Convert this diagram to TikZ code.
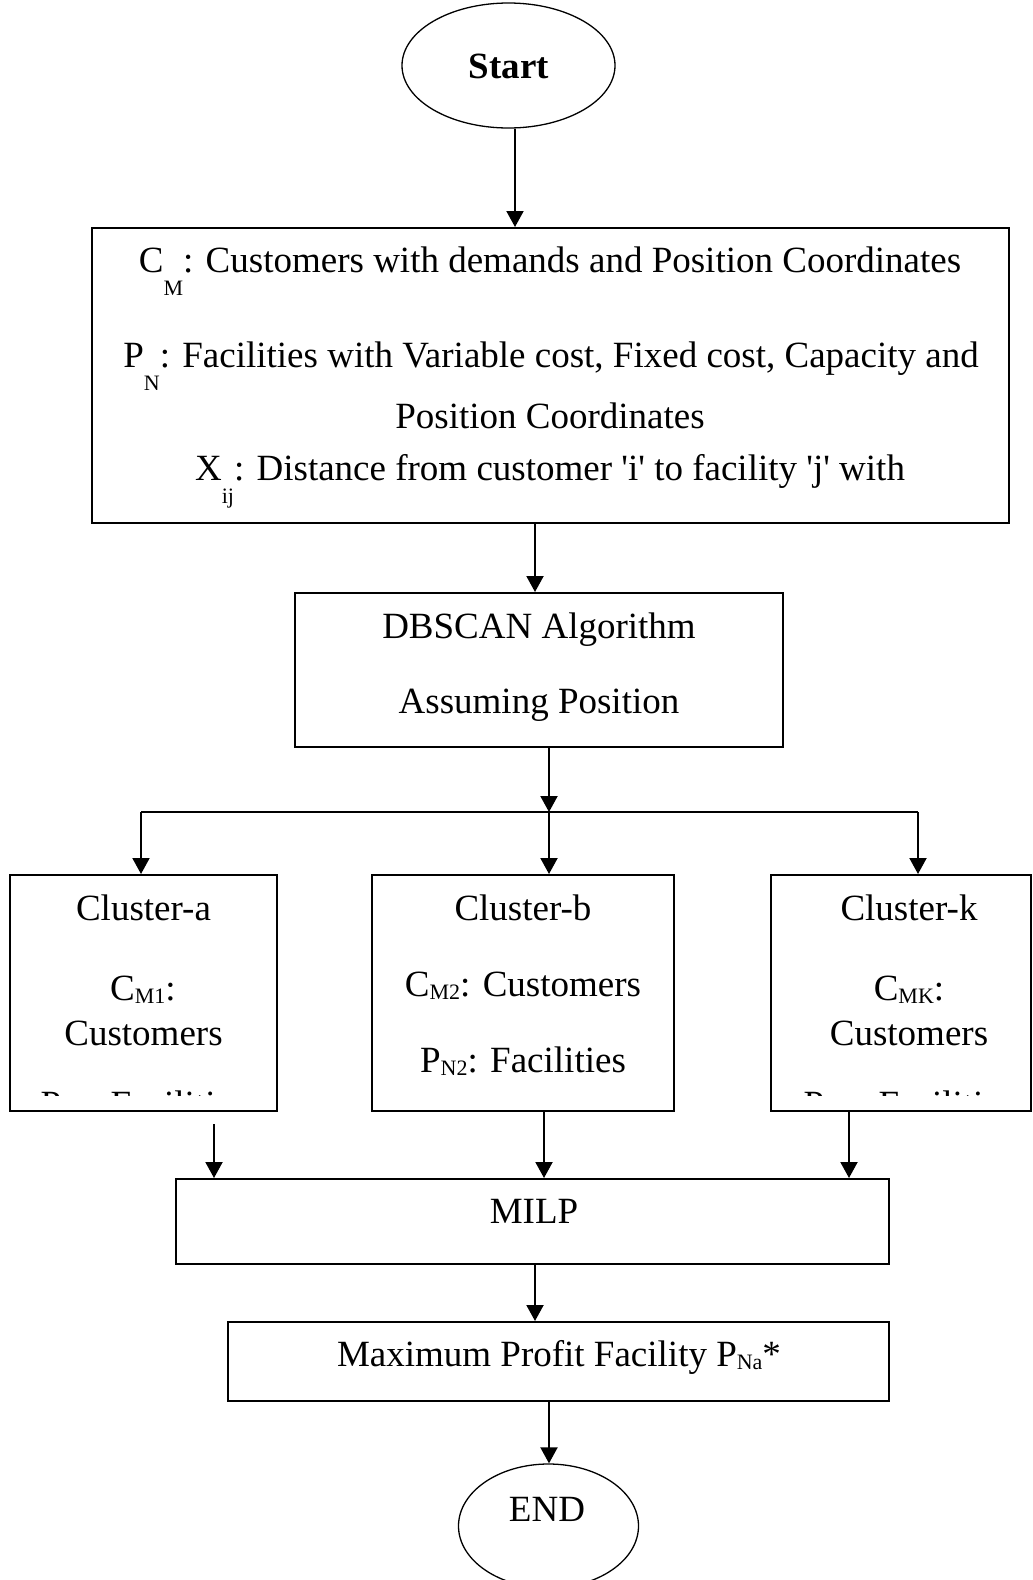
\documentclass[tikz,border=0pt]{standalone}
\usepackage{fontspec}
\setmainfont{Liberation Serif}[Ligatures=TeXOff]
\usetikzlibrary{arrows.meta,fit,shapes.geometric}
\newcommand{\dsub}[1]{\raisebox{-11.5pt}{\fontsize{11}{12}\selectfont #1}}
\newcommand{\csub}[1]{\raisebox{-1.5pt}{\fontsize{11}{12}\selectfont #1}}
\begin{document}
\begin{tikzpicture}[x=0.5pt,y=-0.5pt,
  box/.style={draw,line width=1pt,inner sep=0pt},
  oval/.style={draw,ellipse,line width=0.65pt,inner sep=0pt},
  txt/.style={anchor=base,inner sep=0pt,font=\fontsize{18.5}{22}\selectfont},
  conn/.style={line width=1pt},
  arr/.style={line width=1pt,-{Triangle[length=8pt,width=8.5pt]}}]
\useasboundingbox (0,0) rectangle (1033,1580);
% Start
\node[oval,minimum width=106.5pt,minimum height=62.5pt] (start) at (508.5,65.5) {};
\node[txt,font=\fontsize{18.5}{22}\selectfont\bfseries] (tstart) at (509,78) {Start};
% input box
\node[box,fit={(92,228) (1009,523)}] (inp) {};
\node[txt] (l1) at (550,272) {C\dsub{M}: Customers with demands and Position Coordinates};
\node[txt] (l2) at (551,367) {P\dsub{N}: Facilities with Variable cost, Fixed cost, Capacity and};
\node[txt] (l3) at (550,428) {Position Coordinates};
\node[txt] (l4) at (550,480) {X\dsub{ij}: Distance from customer 'i' to facility 'j' with};
% DBSCAN
\node[box,fit={(295,593) (783,747)}] (db) {};
\node[txt] (d1) at (539,638) {DBSCAN Algorithm};
\node[txt] (d2) at (539,713) {Assuming Position};
% clusters
\node[box,fit={(10,875) (277,1111)}] (cla) {};
\node[box,fit={(372,875) (674,1111)}] (clb) {};
\node[box,fit={(771,875) (1031,1111)}] (clk) {};
\begin{scope}
\clip (10,875) rectangle (277,1095);
\node[txt] (a1) at (143.5,920) {Cluster-a};
\node[txt] (a2) at (143,1000) {C\csub{M1}:};
\node[txt] (a3) at (143.5,1045) {Customers};
\node[txt] (a4) at (143.5,1116) {P\csub{N1}: Facilities};
\end{scope}
\node[txt] (b1) at (523,920) {Cluster-b};
\node[txt] (b2) at (523,996) {C\csub{M2}: Customers};
\node[txt] (b3) at (523,1072) {P\csub{N2}: Facilities};
\begin{scope}
\clip (771,875) rectangle (1031,1095);
\node[txt] (k1) at (909,920) {Cluster-k};
\node[txt] (k2) at (909,1000) {C\csub{MK}:};
\node[txt] (k3) at (909,1045) {Customers};
\node[txt] (k4) at (909,1116) {P\csub{NK}: Facilities};
\end{scope}
% MILP
\node[box,fit={(176,1179) (889,1264)}] (milp) {};
\node[txt] (m1) at (534,1223) {MILP};
% Max profit
\node[box,fit={(228,1322) (889,1401)}] (maxp) {};
\node[txt] (p1) at (559,1366) {Maximum Profit Facility P\csub{Na}*};
% END
\node[oval,minimum width=90pt,minimum height=62pt] (end) at (548.5,1526) {};
\node[txt] (e1) at (547,1521) {END};
% connector coordinates
\coordinate (x1) at (515,0);
\coordinate (x2) at (535,0);
\coordinate (br) at (549,812);
\coordinate (brL) at (141,812);
\coordinate (brR) at (918,812);
\coordinate (ca) at (214,1124);
\coordinate (x7) at (544,0);
\coordinate (x8) at (849,0);
\coordinate (x9) at (535,0);
\coordinate (x10) at (549,0);
% connectors
\draw[arr] (start.south -| x1) -- (inp.north -| x1);
\draw[arr] (inp.south -| x2) -- (db.north -| x2);
\draw[arr] (db.south -| br) -- (br);
\draw[conn] (brL) -- (brR);
\draw[arr] (brL) -- (brL |- cla.north);
\draw[arr] (br) -- (br |- clb.north);
\draw[arr] (brR) -- (brR |- clk.north);
\draw[arr] (ca) -- (ca |- milp.north);
\draw[arr] (clb.south -| x7) -- (milp.north -| x7);
\draw[arr] (clk.south -| x8) -- (milp.north -| x8);
\draw[arr] (milp.south -| x9) -- (maxp.north -| x9);
\draw[arr] (maxp.south -| x10) -- (end.north -| x10);
\end{tikzpicture}
\end{document}
